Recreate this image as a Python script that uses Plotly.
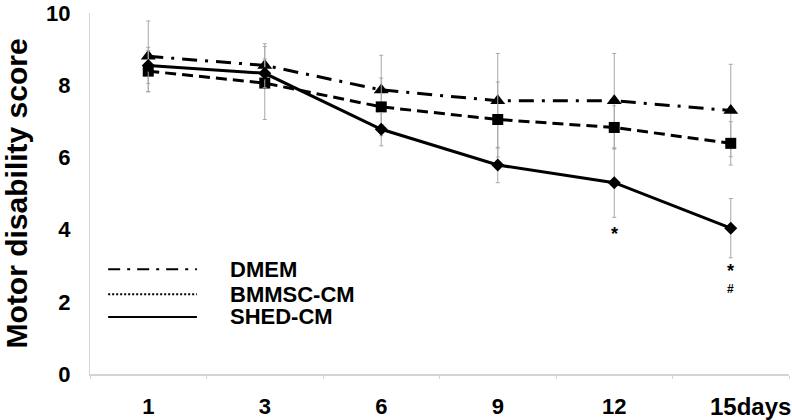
import plotly.graph_objects as go

# dias de avaliação (eixo categórico)
dias = ["1", "3", "6", "9", "12", "15"]
rotulos_x = ["1", "3", "6", "9", "12", ""]

# médias por grupo
dmem = [8.80, 8.55, 7.87, 7.57, 7.57, 7.30]
bmmsc = [8.39, 8.06, 7.40, 7.05, 6.83, 6.39]
shed = [8.55, 8.33, 6.78, 5.79, 5.30, 4.04]

# desvios (barras de erro)
dmem_err = [0.98, 0.60, 0.96, 1.31, 1.31, 1.28]
bmmsc_err = [0.57, 1.01, 0.80, 1.04, 0.60, 0.60]
shed_err = [0.50, 0.40, 0.46, 0.49, 0.96, 0.82]

grupos = ["DMEM", "BMMSC-CM", "SHED-CM"]

FONTE = "Liberation Sans, Arial, sans-serif"
CINZA = "#a8a8a8"


def serie(y, err, simbolo, tamanho, dash):
    return go.Scatter(
        x=dias,
        y=y,
        mode="lines+markers",
        line=dict(color="black", width=3, dash=dash),
        marker=dict(symbol=simbolo, size=tamanho, color="black"),
        error_y=dict(type="data", array=err, color=CINZA, thickness=1, width=2),
        showlegend=False,
    )


fig = go.Figure()
fig.add_trace(serie(dmem, dmem_err, "triangle-up", 13, "15px,8px,3px,8px"))
fig.add_trace(serie(bmmsc, bmmsc_err, "square", 11, "11px,6px"))
fig.add_trace(serie(shed, shed_err, "diamond", 10, "solid"))

# legenda desenhada à mão (linhas + texto), como no original
estilos_leg = ["12px,7px,3px,7px", "2px,2px", "solid"]
ys_leg = [0.290, 0.221, 0.158]
for nome, dash, yl in zip(grupos, estilos_leg, ys_leg):
    fig.add_shape(
        type="line", xref="paper", yref="paper",
        x0=0.026, x1=0.153, y0=yl, y1=yl,
        line=dict(color="black", width=2, dash=dash),
    )
    fig.add_annotation(
        x=0.197, y=yl, xref="paper", yref="paper", text=f"<b>{nome}</b>",
        showarrow=False, xanchor="left", yanchor="middle",
        font=dict(family=FONTE, size=22, color="black"),
    )

# marcadores de significância (x = índice da categoria)
i12 = dias.index("12")
i15 = dias.index("15")
fig.add_annotation(x=i12, y=3.99, text="<b>*</b>", showarrow=False, yshift=-4,
                   font=dict(family=FONTE, size=18, color="black"))
fig.add_annotation(x=i15, y=2.90, text="<b>*</b>", showarrow=False, yshift=-2,
                   font=dict(family=FONTE, size=18, color="black"))
fig.add_annotation(x=i15, y=2.43, text="<b>#</b>", showarrow=False, yshift=-3,
                   font=dict(family=FONTE, size=12, color="black"))

# último rótulo do eixo x deslocado (como no original)
fig.add_annotation(
    x=i15, y=0, yref="paper", text="<b>15days</b>", showarrow=False,
    xanchor="left", yanchor="middle", xshift=-23, yshift=-32,
    font=dict(family=FONTE, size=24, color="black"),
)

# título do eixo y
fig.add_annotation(
    x=-0.131, y=0.5, xref="paper", yref="paper",
    text="<b>Motor disability score</b>", textangle=-90, showarrow=False,
    font=dict(family=FONTE, size=30, color="black"),
)

fig.update_layout(
    width=792,
    height=420,
    margin=dict(l=90, r=3, t=13, b=46),
    plot_bgcolor="white",
    paper_bgcolor="white",
    font=dict(family=FONTE, color="black"),
    xaxis=dict(
        type="category",
        tickmode="array",
        tickvals=dias,
        ticktext=[f"<b>{t}</b>" for t in rotulos_x],
        range=[-0.5, 5.5],
        automargin=False,
        showline=True,
        linecolor="#d4d4d4",
        linewidth=2,
        ticks="outside",
        tickson="boundaries",
        ticklen=3,
        tickcolor="#d4d4d4",
        showgrid=False,
        tickfont=dict(family=FONTE, size=22, color="black"),
        ticklabelstandoff=12,
    ),
    yaxis=dict(
        range=[0, 10.001],
        tickvals=[0, 2, 4, 6, 8, 10],
        ticktext=["<b>0</b>", "<b>2</b>", "<b>4</b>", "<b>6</b>", "<b>8</b>", "<b>10</b>"],
        automargin=False,
        ticklabeloverflow="allow",
        showline=True,
        linecolor="#d4d4d4",
        linewidth=1,
        ticks="",
        showgrid=False,
        zeroline=False,
        tickfont=dict(family=FONTE, size=22, color="black"),
        ticklabelstandoff=14,
    ),
)

fig.write_html(
    "out.html",
    config={"displayModeBar": False},
    post_script="document.body.style.margin='0';",
)
